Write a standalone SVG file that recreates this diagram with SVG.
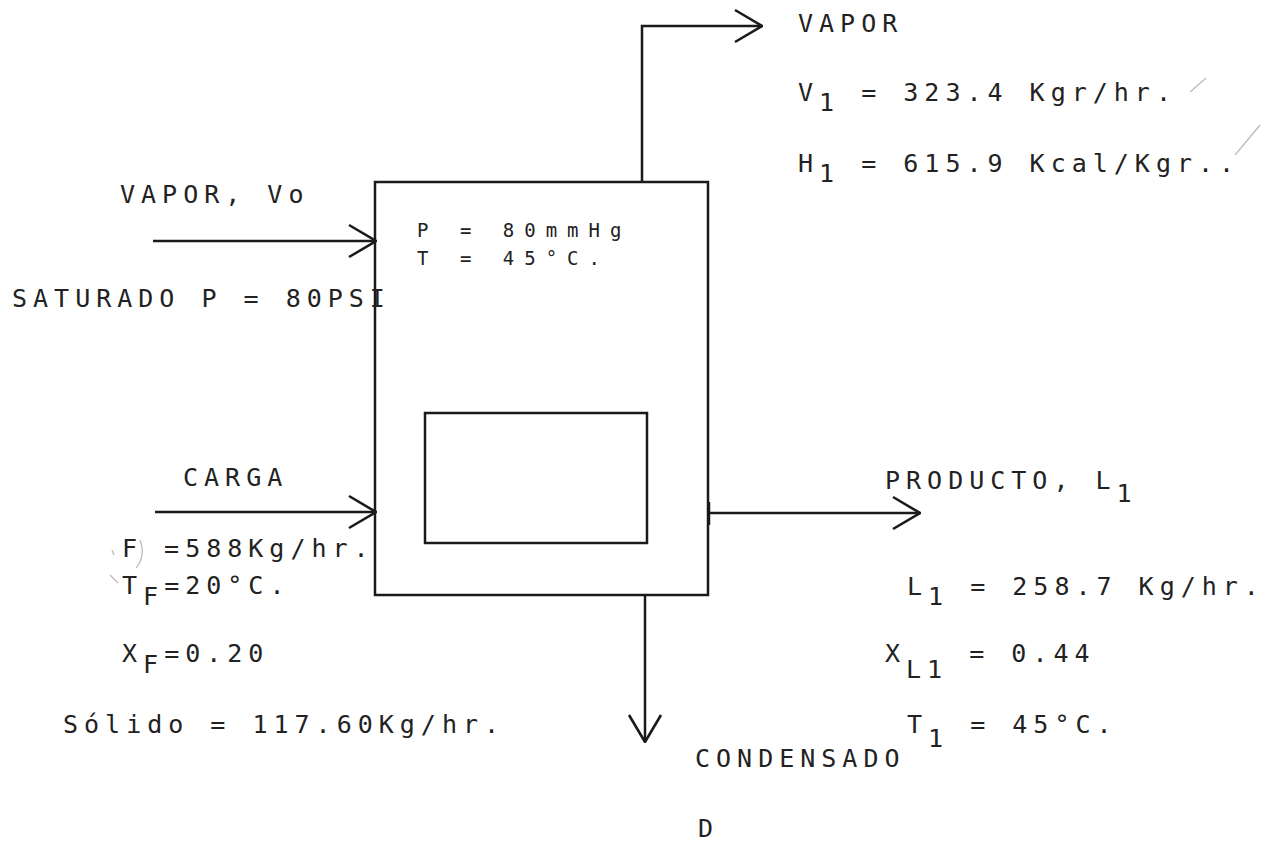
<svg xmlns="http://www.w3.org/2000/svg" width="1268" height="841" viewBox="0 0 1268 841">
<style>
.t{font-family:"DejaVu Sans Mono","Liberation Mono",monospace;font-size:25px;letter-spacing:6px;fill:#222}
.b{font-size:19px;letter-spacing:10px}
.ln{stroke:#1a1a1a;stroke-width:2.5;fill:none}
.mk{stroke:#bbb;stroke-width:1.3;fill:none}
</style>
<defs>
<marker id="chev" viewBox="0 0 30 36" refX="29" refY="18" markerWidth="30" markerHeight="36" markerUnits="userSpaceOnUse" orient="auto">
<path d="M2,2 L29,18 L2,34" stroke="#1a1a1a" stroke-width="2.6" fill="none"/>
</marker>
</defs>
<rect width="1268" height="841" fill="#fff"/>
<g id="evaporador">
<rect x="375" y="182" width="333" height="413" class="ln"/>
<rect x="425" y="413" width="222" height="130" class="ln"/>
<text class="t b" x="417" y="237">P = 80mmHg</text>
<text class="t b" x="417" y="265">T = 45°C.</text>
</g>
<g id="connectors">
<path d="M642,182 V26 H762" class="ln" marker-end="url(#chev)"/>
<path d="M153,241 H376" class="ln" marker-end="url(#chev)"/>
<path d="M155,512 H376" class="ln" marker-end="url(#chev)"/>
<path d="M709,513 H920" class="ln" stroke-width="4" marker-end="url(#chev)"/>
<path d="M709,502 V525" class="ln"/>
<path d="M645,595 V742" class="ln" marker-end="url(#chev)"/>
</g>
<g id="vapor-salida">
<text class="t" x="798" y="32">VAPOR</text>
<text class="t" x="798" y="101">V<tspan dy="10">1</tspan><tspan dy="-10"> = 323.4 Kgr/hr.</tspan></text>
<text class="t" x="798" y="172">H<tspan dy="10">1</tspan><tspan dy="-10"> = 615.9 Kcal/Kgr..</tspan></text>
</g>
<g id="vapor-entrada">
<text class="t" x="120" y="203">VAPOR, Vo</text>
<text class="t" x="12" y="307">SATURADO P = 80PSI</text>
</g>
<g id="carga">
<text class="t" x="183" y="486">CARGA</text>
<text class="t" x="122" y="557">F =588Kg/hr.</text>
<text class="t" x="122" y="594">T<tspan dy="11">F</tspan><tspan dy="-11">=20°C.</tspan></text>
<text class="t" x="122" y="662">X<tspan dy="11">F</tspan><tspan dy="-11">=0.20</tspan></text>
<text class="t" x="63" y="733">Sólido = 117.60Kg/hr.</text>
</g>
<g id="producto">
<text class="t" x="885" y="489">PRODUCTO, L<tspan dy="13">1</tspan></text>
<text class="t" x="907" y="595">L<tspan dy="10">1</tspan><tspan dy="-10"> = 258.7 Kg/hr.</tspan></text>
<text class="t" x="885" y="662">X<tspan dy="16">L1</tspan><tspan dy="-16"> = 0.44</tspan></text>
<text class="t" x="907" y="733">T<tspan dy="14">1</tspan><tspan dy="-14"> = 45°C.</tspan></text>
</g>
<g id="condensado">
<text class="t" x="695" y="767">CONDENSADO</text>
<text class="t" x="698" y="837">D</text>
</g>
<g id="marcas">
<path class="mk" d="M1190,92 L1206,78"/>
<path class="mk" d="M1260,125 L1235,155"/>
<path class="mk" d="M140,540 Q146,556 136,568"/>
<path class="mk" d="M112,550 L114,555"/>
<path class="mk" d="M110,575 L118,583"/>
</g>
</svg>
